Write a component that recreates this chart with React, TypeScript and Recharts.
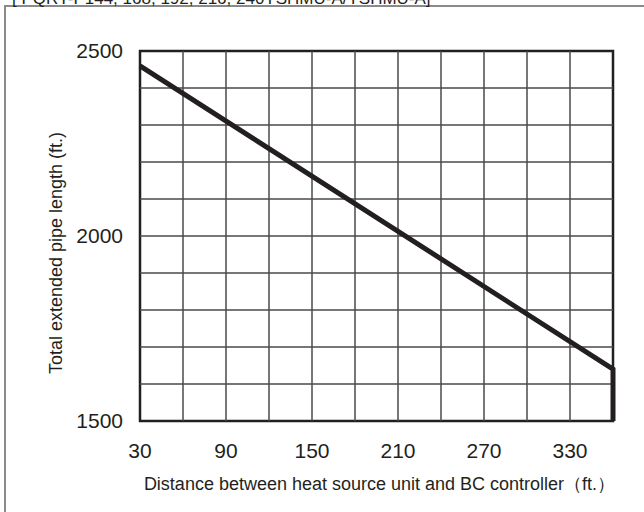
import React from "react";
import { LineChart, Line, XAxis, YAxis, ReferenceLine, ReferenceArea, Label } from "recharts";

const distances = [30, 360, 360];
const pipeLengths = [2460, 1640, 1500];
const xTicks = [30, 90, 150, 210, 270, 330];
const yTicks = [1500, 2000, 2500];
const xGrid = [60, 90, 120, 150, 180, 210, 240, 270, 300, 330];
const yGrid = [1600, 1700, 1800, 1900, 2000, 2100, 2200, 2300, 2400];
const title = "[ PQRY-P144, 168, 192, 216, 240YSHMU-A/YSHMU-A]";
const xTitle = "Distance between heat source unit and BC controller（ft.）";
const yTitle = "Total extended pipe length (ft.)";

const data = distances.map((d, i) => ({ x: d, y: pipeLengths[i] }));

const FONT = "'Liberation Sans', Arial, Helvetica, sans-serif";
const GRID = "#4a4a4a";

export default function App() {
  return (
    <div style={{ position: "absolute", left: 0, top: 0, width: 644, height: 512, background: "#fff", overflow: "hidden" }}>
      <svg width={644} height={512} style={{ position: "absolute", left: 0, top: 0 }}>
        <rect x={5} y={6} width={700} height={600} fill="none" stroke="#8a8a8a" strokeWidth={2} />
        <text x={12} y={4} fontFamily={FONT} fontSize={17} fill="#231f20">{title}</text>
      </svg>
      <div style={{ position: "absolute", left: 0, top: 0 }}>
        <LineChart width={644} height={512} data={data} margin={{ top: 51, right: 31, bottom: 0, left: 0 }}>
          {xGrid.map((v) => (
            <ReferenceLine key={"vx" + v} x={v} stroke={GRID} strokeWidth={1.5} />
          ))}
          {yGrid.map((v) => (
            <ReferenceLine key={"hy" + v} y={v} stroke={GRID} strokeWidth={1.5} />
          ))}
          <ReferenceArea x1={30} x2={360} y1={1500} y2={2500} fill="none" fillOpacity={0} stroke="#231f20" strokeWidth={2.5} />
          <XAxis
            dataKey="x"
            type="number"
            domain={[30, 360]}
            ticks={xTicks}
            height={91}
            axisLine={false}
            tickLine={false}
            tickSize={0}
            tickMargin={22}
            tick={{ fontFamily: FONT, fontSize: 21, fill: "#231f20" }}
          >
            <Label
              content={(props: any) => {
                const vb = props.viewBox;
                return (
                  <text x={vb.x + vb.width / 2 + 3} y={vb.y + 69} textAnchor="middle" fontFamily={FONT} fontSize={18} fill="#231f20">
                    {xTitle}
                  </text>
                );
              }}
            />
          </XAxis>
          <YAxis
            type="number"
            domain={[1500, 2500]}
            ticks={yTicks}
            width={140}
            axisLine={false}
            tickLine={false}
            tickSize={0}
            tickMargin={17}
            tick={{ fontFamily: FONT, fontSize: 21, fill: "#231f20" }}
          >
            <Label
              content={(props: any) => {
                const vb = props.viewBox;
                const cx = 62;
                const cy = vb.y + vb.height / 2 + 17;
                return (
                  <text x={cx} y={cy} textAnchor="middle" transform={`rotate(-90, ${cx}, ${cy})`} fontFamily={FONT} fontSize={18} fill="#231f20">
                    {yTitle}
                  </text>
                );
              }}
            />
          </YAxis>
          <Line
            type="linear"
            dataKey="y"
            stroke="#231f20"
            strokeWidth={5}
            dot={false}
            activeDot={false}
            strokeLinejoin="miter"
            isAnimationActive={false}
          />
        </LineChart>
      </div>
    </div>
  );
}
